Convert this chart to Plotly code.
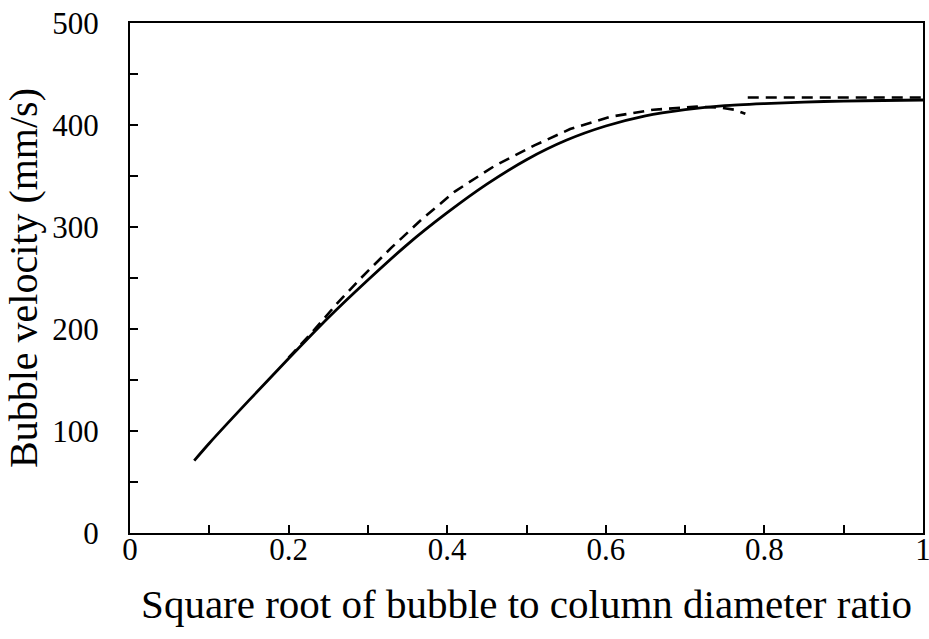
import plotly.graph_objects as go

# Solid curve
solid_x = [0.081, 0.1, 0.15, 0.2, 0.25, 0.3, 0.35, 0.4, 0.45, 0.5, 0.55, 0.6, 0.65, 0.7, 0.75, 0.8, 0.85, 0.9, 0.95, 1.0]
solid_y = [71, 88, 130, 171, 211, 248, 283, 314, 342, 366, 385, 399, 409, 415, 419, 421, 422.5, 423.5, 424, 424.5]

# Dashed curve (two pieces)
dash1_x = [0.20, 0.23, 0.26, 0.29, 0.33, 0.37, 0.41, 0.46, 0.51, 0.555, 0.605, 0.66, 0.715, 0.745, 0.762, 0.776]
dash1_y = [172, 197, 224, 249, 280, 309, 335, 360, 380, 396, 408, 415, 418, 417, 415, 411]
dash2_x = [0.779, 1.0]
dash2_y = [427, 427]

x_tickvals = [0, 0.2, 0.4, 0.6, 0.8, 1]
x_ticktext = ["0", "0.2", "0.4", "0.6", "0.8", "1"]
y_tickvals = [0, 100, 200, 300, 400, 500]

FONT = "Liberation Serif, Times New Roman, serif"

fig = go.Figure()
fig.add_trace(go.Scatter(x=dash1_x + [None] + dash2_x, y=dash1_y + [None] + dash2_y,
                         mode="lines", line=dict(color="black", width=2.6, dash="11px,7px"),
                         connectgaps=False, showlegend=False, hoverinfo="skip"))
fig.add_trace(go.Scatter(x=solid_x, y=solid_y, mode="lines",
                         line=dict(color="black", width=2.8, shape="spline", smoothing=0.6),
                         showlegend=False, hoverinfo="skip"))

fig.update_layout(
    width=929, height=639,
    margin=dict(l=130, r=6, t=23, b=106),
    paper_bgcolor="white", plot_bgcolor="white",
    font=dict(family=FONT, color="black", size=31),
    showlegend=False,
)
fig.update_xaxes(
    range=[0, 1], showgrid=False, zeroline=False,
    showline=True, linecolor="black", linewidth=2, mirror=True,
    ticks="inside", ticklen=8, tickwidth=2, tickcolor="black",
    tickvals=x_tickvals, ticktext=x_ticktext,
    minor=dict(ticks="inside", ticklen=8, tickwidth=2, tickcolor="black", dtick=0.1, showgrid=False),
    tickfont=dict(size=31, family=FONT),
    ticklabelstandoff=-12,
    ticklabeloverflow="allow",
    title=dict(text="Square root of bubble to column diameter ratio", font=dict(size=41, family=FONT), standoff=23),
    automargin=False,
)
fig.update_yaxes(
    range=[0, 500], showgrid=False, zeroline=False,
    showline=True, linecolor="black", linewidth=2, mirror=True,
    ticks="inside", ticklen=8, tickwidth=2, tickcolor="black",
    tickvals=y_tickvals,
    minor=dict(ticks="inside", ticklen=8, tickwidth=2, tickcolor="black", dtick=50, showgrid=False),
    tickfont=dict(size=31, family=FONT),
    ticklabelstandoff=23,
    ticklabeloverflow="allow",
    title=dict(text="Bubble velocity (mm/s)", font=dict(size=40, family=FONT), standoff=2),
    automargin=False,
)

fig.write_html("out.html", config={"displayModeBar": False},
               post_script="document.body.style.margin='0';document.body.style.overflow='hidden';")
